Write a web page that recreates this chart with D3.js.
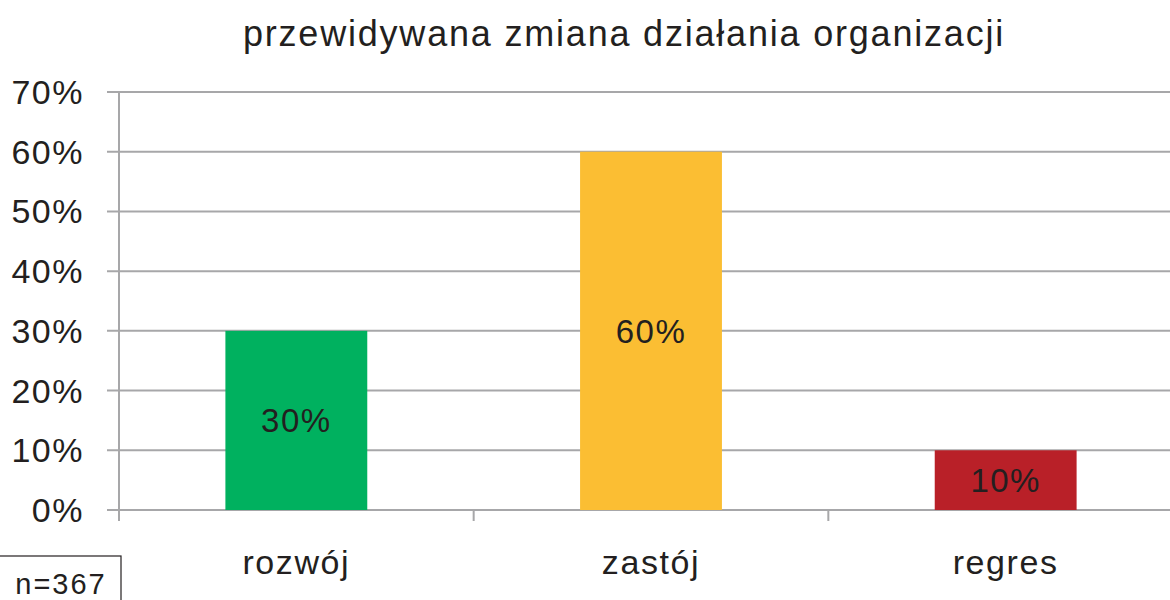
<!DOCTYPE html>
<html>
<head>
<meta charset="utf-8">
<script src="https://cdn.jsdelivr.net/npm/d3@7"></script>
<style>
  body { margin: 0; background: #fff; }
  text { font-family: "Liberation Sans", Arial, sans-serif; fill: #231f20; }
</style>
</head>
<body>
<svg id="chart" width="1170" height="600"></svg>
<script>
// data
var categories = ['rozwój', 'zastój', 'regres'];
var values = [30, 60, 10];
var colors = ['#00b15f', '#fbbe33', '#b92028'];
var yTicks = [0, 10, 20, 30, 40, 50, 60, 70];
var title = 'przewidywana zmiana działania organizacji';
var note = 'n=367';

var svg = d3.select('#chart'),
    gridColor = '#a7a7a9';

var x = d3.scaleBand().domain(categories).range([119, 1183]).paddingInner(0.6).paddingOuter(0.3);
var y = d3.scaleLinear().domain([0, 70]).range([510, 92]);

// gridlines
svg.append('g').selectAll('line')
  .data(yTicks)
  .enter().append('line')
  .attr('x1', 107).attr('x2', 1170)
  .attr('y1', d => y(d)).attr('y2', d => y(d))
  .attr('stroke', gridColor).attr('stroke-width', 2);

// y axis line
svg.append('line')
  .attr('x1', 119).attr('x2', 119)
  .attr('y1', y(70)).attr('y2', 521)
  .attr('stroke', gridColor).attr('stroke-width', 2);

// category separators
var step = x.step();
svg.append('g').selectAll('line')
  .data(categories.slice(1))
  .enter().append('line')
  .attr('x1', (d, i) => 119 + step * (i + 1))
  .attr('x2', (d, i) => 119 + step * (i + 1))
  .attr('y1', y(0)).attr('y2', 521)
  .attr('stroke', gridColor).attr('stroke-width', 2);

// y tick labels
svg.append('g').selectAll('text')
  .data(yTicks)
  .enter().append('text')
  .attr('x', 84).attr('y', d => y(d) + 12)
  .attr('text-anchor', 'end')
  .style('font-size', '34px')
  .style('letter-spacing', '1.5px')
  .text(d => d + '%');

// bars
svg.append('g').selectAll('rect')
  .data(values)
  .enter().append('rect')
  .attr('x', (d, i) => x(categories[i]))
  .attr('width', x.bandwidth())
  .attr('y', d => y(d))
  .attr('height', d => y(0) - y(d))
  .attr('fill', (d, i) => colors[i]);

// bar labels
svg.append('g').selectAll('text')
  .data(values)
  .enter().append('text')
  .attr('x', (d, i) => x(categories[i]) + x.bandwidth() / 2)
  .attr('y', d => (y(d) + y(0)) / 2 + 12)
  .attr('text-anchor', 'middle')
  .style('font-size', '33px')
  .style('letter-spacing', '1.5px')
  .text(d => d + '%');

// category labels
svg.append('g').selectAll('text')
  .data(categories)
  .enter().append('text')
  .attr('x', d => x(d) + x.bandwidth() / 2)
  .attr('y', 574)
  .attr('text-anchor', 'middle')
  .style('font-size', '34px')
  .style('letter-spacing', '1.6px')
  .text(d => d);

// title
svg.append('text')
  .attr('x', 624).attr('y', 46)
  .attr('text-anchor', 'middle')
  .style('font-size', '36px')
  .style('letter-spacing', '1.8px')
  .text(title);

// n box
svg.append('rect')
  .attr('x', -1).attr('y', 556)
  .attr('width', 122).attr('height', 60)
  .attr('fill', 'none').attr('stroke', '#231f20').attr('stroke-width', 1.2);
svg.append('text')
  .attr('x', 61).attr('y', 594)
  .attr('text-anchor', 'middle')
  .style('font-size', '29px')
  .style('letter-spacing', '2px')
  .text(note);
</script>
</body>
</html>
